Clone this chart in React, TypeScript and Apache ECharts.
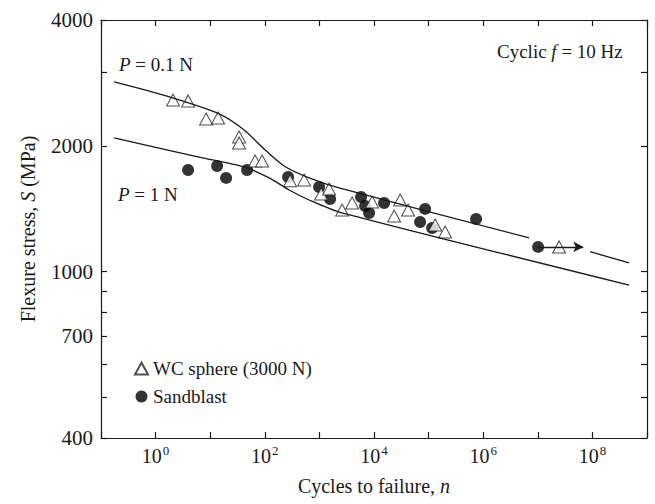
import React, { useEffect, useRef } from "react";
import * as echarts from "echarts";

// WC sphere (3000 N) – open triangles
const wcN = [2.09, 3.94, 8.41, 13.95, 33.8, 33.8, 66.4, 89.2, 290.7, 524.6, 1074, 1506, 2605, 3972, 9231, 23340, 30060, 42120, 131500, 200600, 2.455e7];
const wcS = [2575, 2561, 2318, 2331, 2100, 2032, 1840, 1840, 1650, 1657, 1534, 1577, 1404, 1460, 1468, 1359, 1484, 1404, 1293, 1244, 1146];

// Sandblast – filled circles
const sbN = [3.94, 13.38, 19.55, 47.4, 267.2, 987.4, 1570, 5802, 6871, 8136, 15310, 69870, 86290, 115900, 741300, 1.013e7];
const sbS = [1751, 1790, 1676, 1751, 1685, 1594, 1492, 1509, 1436, 1381, 1460, 1315, 1413, 1272, 1337, 1146];

// Run-out arrow
const runoutN = [1.013e7, 6.8e7];
const runoutS = [1146, 1146];

// P = 0.1 N curve (two pieces, gap for the run-out)
const p01N = [0.174, 1.56, 14.55, 41.8, 97.1, 225.6, 648, 2296, 6.93e6];
const p01S = [2843, 2632, 2384, 2183, 1966, 1790, 1676, 1586, 1205];
const p01TailN = [9.08e7, 4.7e8];
const p01TailS = [1116, 1050];

// P = 1 N curve
const p1N = [0.174, 6.26, 41.8, 120, 279, 648, 2296, 4.7e8];
const p1S = [2089, 1880, 1780, 1676, 1568, 1484, 1389, 929];

// Axis ticks
const xExpMin = -1;
const xExpMax = 9;
const xLabelExps = [0, 2, 4, 6, 8];
const yMin = 400;
const yMax = 4000;
const yTickValues = [400, 500, 600, 700, 800, 900, 1000, 2000, 3000, 4000];
const yLabelValues = [400, 700, 1000, 2000, 4000];

const FONT = "Liberation Serif";
const INK = "#1a1a1a";

const toPts = (ns: number[], ss: number[]) => ns.map((n, i) => [Math.log10(n), Math.log10(ss[i])]);

export default function App() {
  const ref = useRef<HTMLDivElement>(null);
  useEffect(() => {
    if (!ref.current) return;
    const chart = echarts.init(ref.current, null, { renderer: "svg" });
    const lg = (v: number) => Math.log10(v);
    const axisCommonX = {
      type: "value",
      min: xExpMin,
      max: xExpMax,
      interval: 1,
      axisLine: { show: true, onZero: false, lineStyle: { color: INK, width: 1.2 } },
      axisTick: { show: true, inside: true, length: 6, lineStyle: { color: INK, width: 1.2 } },
      splitLine: { show: false },
    };
    const axisCommonY = {
      type: "value",
      min: lg(yMin),
      max: lg(yMax),
      axisLine: { show: true, onZero: false, lineStyle: { color: INK, width: 1.2 } },
      axisTick: {
        show: true,
        inside: true,
        length: 6,
        lineStyle: { color: INK, width: 1.2 },
        customValues: yTickValues.map(lg),
      },
      splitLine: { show: false },
    };
    const lineStyle = { color: INK, width: 1.3 };
    chart.setOption({
      animation: false,
      backgroundColor: "#ffffff",
      textStyle: { fontFamily: FONT, color: INK },
      grid: { left: 101, right: 8, top: 20, bottom: 66, containLabel: false },
      legend: {
        orient: "vertical",
        left: 129,
        top: 354,
        itemGap: 9,
        itemWidth: 13,
        itemHeight: 12,
        data: ["WC sphere (3000 N)", "Sandblast"],
        textStyle: { fontFamily: FONT, fontSize: 19, color: INK },
      },
      xAxis: [
        {
          ...axisCommonX,
          position: "bottom",
          name: "Cycles to failure, {i|n}",
          nameLocation: "middle",
          nameGap: 38,
          nameTextStyle: {
            fontFamily: FONT,
            fontSize: 20,
            color: INK,
            rich: { i: { fontFamily: FONT, fontSize: 20, fontStyle: "italic", color: INK } },
          },
          axisLabel: {
            show: true,
            margin: 6,
            formatter: (v: number) => {
              const r = Math.round(v);
              return xLabelExps.includes(r) ? `{b|10}{s|${r}}` : "";
            },
            rich: {
              b: { fontFamily: FONT, fontSize: 20, color: INK, verticalAlign: "bottom" },
              s: { fontFamily: FONT, fontSize: 13, color: INK, verticalAlign: "bottom", padding: [0, 0, 9, 1] },
            },
          },
        },
        { ...axisCommonX, position: "top", axisLabel: { show: false } },
      ],
      yAxis: [
        {
          ...axisCommonY,
          position: "left",
          name: "Flexure stress, {i|S} (MPa)",
          nameLocation: "middle",
          nameGap: 63,
          nameTextStyle: {
            fontFamily: FONT,
            fontSize: 20,
            color: INK,
            rich: { i: { fontFamily: FONT, fontSize: 20, fontStyle: "italic", color: INK } },
          },
          axisLabel: {
            show: true,
            margin: 8,
            fontFamily: FONT,
            fontSize: 21,
            color: INK,
            customValues: yLabelValues.map(lg),
            formatter: (v: number) => String(Math.round(Math.pow(10, v) / 100) * 100),
          },
        },
        { ...axisCommonY, position: "right", axisLabel: { show: false } },
      ],
      graphic: [
        {
          type: "text",
          left: 119,
          top: 55,
          style: {
            text: "{i|P} = 0.1 N",
            font: `19px ${FONT}`,
            fill: INK,
            rich: { i: { fontStyle: "italic", fontFamily: FONT, fontSize: 19 } },
          },
        },
        {
          type: "text",
          left: 118,
          top: 185,
          style: {
            text: "{i|P} = 1 N",
            font: `19px ${FONT}`,
            fill: INK,
            rich: { i: { fontStyle: "italic", fontFamily: FONT, fontSize: 19 } },
          },
        },
        {
          type: "text",
          left: 497,
          top: 42,
          style: {
            text: "Cyclic {i|f} = 10 Hz",
            font: `19px ${FONT}`,
            fill: INK,
            rich: { i: { fontStyle: "italic", fontFamily: FONT, fontSize: 19 } },
          },
        },
      ],
      series: [
        {
          name: "P = 0.1 N",
          type: "line",
          data: toPts(p01N, p01S),
          showSymbol: false,
          smooth: 0.25,
          lineStyle,
          silent: true,
        },
        {
          name: "P = 0.1 N tail",
          type: "line",
          data: toPts(p01TailN, p01TailS),
          showSymbol: false,
          lineStyle,
          silent: true,
        },
        {
          name: "P = 1 N",
          type: "line",
          data: toPts(p1N, p1S),
          showSymbol: false,
          smooth: 0.25,
          lineStyle,
          silent: true,
        },
        {
          name: "Sandblast",
          type: "scatter",
          symbol: "circle",
          symbolSize: 12,
          itemStyle: { color: "#000000" },
          data: toPts(sbN, sbS),
          markLine: {
            silent: true,
            symbol: ["none", "arrow"],
            symbolSize: [8, 10],
            label: { show: false },
            lineStyle: { color: INK, width: 1.3, type: "solid" },
            data: [
              [
                { coord: [lg(runoutN[0]), lg(runoutS[0])] },
                { coord: [lg(runoutN[1]), lg(runoutS[1])] },
              ],
            ],
          },
        },
        {
          name: "WC sphere (3000 N)",
          type: "scatter",
          symbol: "triangle",
          symbolSize: [13, 12],
          itemStyle: { color: "#ffffff", borderColor: "#222222", borderWidth: 1 },
          data: toPts(wcN, wcS),
        },
      ],
    });
    return () => chart.dispose();
  }, []);
  return (
    <div
      ref={ref}
      style={{ position: "absolute", left: 0, top: 0, width: 655, height: 504 }}
    />
  );
}
